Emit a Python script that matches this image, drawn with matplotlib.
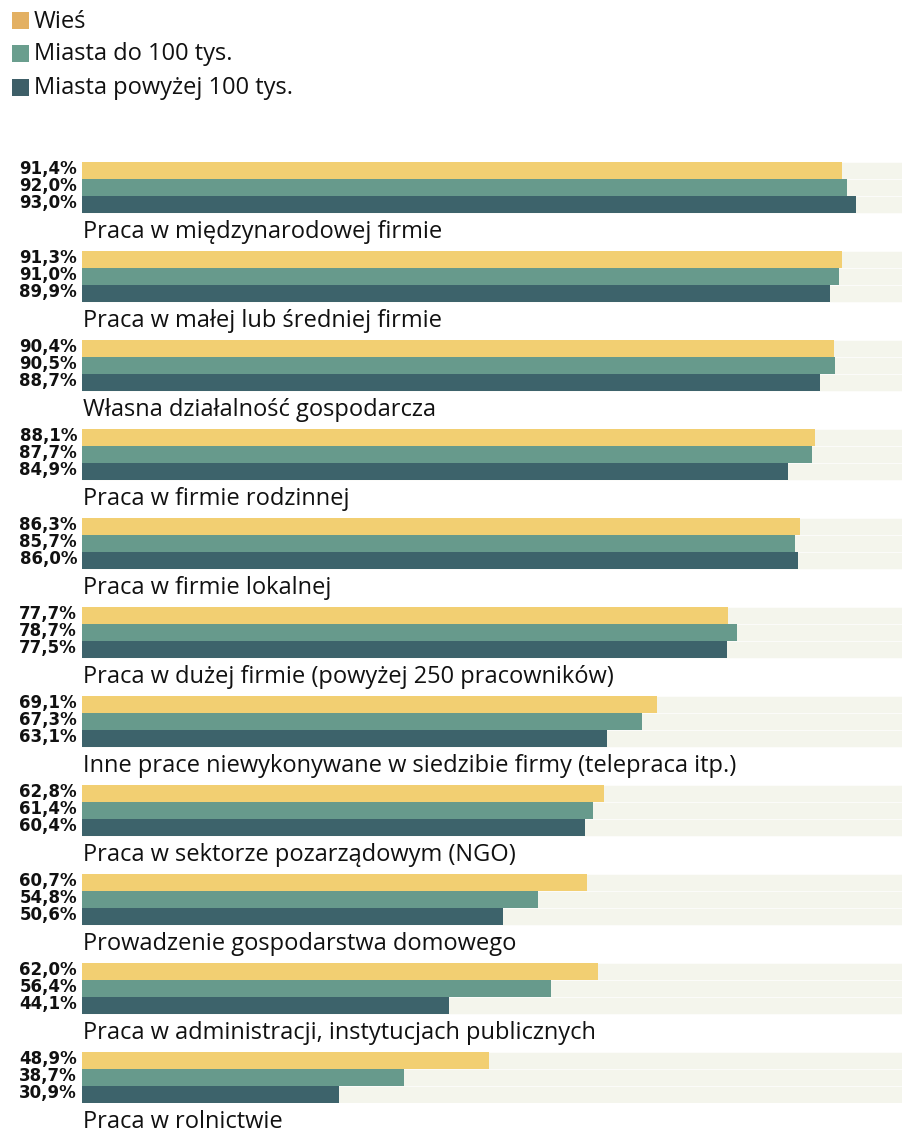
import matplotlib
matplotlib.use("Agg")
import matplotlib.pyplot as plt
from matplotlib.patches import Rectangle
import matplotlib.transforms as mtransforms

plt.rcParams['font.family'] = ['Open Sans', 'DejaVu Sans']

categories = [
    "Praca w międzynarodowej firmie",
    "Praca w małej lub średniej firmie",
    "Własna działalność gospodarcza",
    "Praca w firmie rodzinnej",
    "Praca w firmie lokalnej",
    "Praca w dużej firmie (powyżej 250 pracowników)",
    "Inne prace niewykonywane w siedzibie firmy (telepraca itp.)",
    "Praca w sektorze pozarządowym (NGO)",
    "Prowadzenie gospodarstwa domowego",
    "Praca w administracji, instytucjach publicznych",
    "Praca w rolnictwie",
]
wies = [91.4, 91.3, 90.4, 88.1, 86.3, 77.7, 69.1, 62.8, 60.7, 62.0, 48.9]
miasta_do_100 = [92.0, 91.0, 90.5, 87.7, 85.7, 78.7, 67.3, 61.4, 54.8, 56.4, 38.7]
miasta_pow_100 = [93.0, 89.9, 88.7, 84.9, 86.0, 77.5, 63.1, 60.4, 50.6, 44.1, 30.9]
series_names = ["Wieś", "Miasta do 100 tys.", "Miasta powyżej 100 tys."]
full_scale = 100

bar_colors = ["#F2CF72", "#679A8C", "#3D636B"]
legend_colors = ["#E3B062", "#6A9E8E", "#3E5F68"]
bg_color = "#F4F5EC"

W, H = 902, 1130
fig = plt.figure(figsize=(W / 100, H / 100), dpi=100)
ax_left, ax_right = 82 / W, 1.0
ax_top, ax_bot = 162 / H, 1103 / H
ax = fig.add_axes([ax_left, 1 - ax_bot, ax_right - ax_left, ax_bot - ax_top])

pitch = 1.0
bar_h = 17 / 89
series = [wies, miasta_do_100, miasta_pow_100]

lab_trans = mtransforms.blended_transform_factory(ax.transAxes, ax.transData)
for i, cat in enumerate(categories):
    top = i * pitch
    for j, vals in enumerate(series):
        y = top + (j + 0.5) * bar_h
        ax.barh(y, full_scale, height=bar_h, color=bg_color, left=0, zorder=1,
                edgecolor="white", linewidth=0.4)
        ax.barh(y, vals[i], height=bar_h, color=bar_colors[j], zorder=2)
        ax.text(-0.006, y + 0.035, f"{vals[i]:.1f}%".replace(".", ","), transform=lab_trans,
                ha="right", va="baseline", fontsize=12, fontweight="bold",
                family="DejaVu Sans", color="#111111")
    ax.text(0.15, top + 3 * bar_h + 0.28, cat, ha="left", va="baseline",
            fontsize=17, color="#111111")

ax.set_xlim(0, 820 / 8.32)
ax.set_ylim(10 + 3 * bar_h, 0)
ax.axis("off")

# legend (figure pixel layout)
leg_rows_y = [20, 53, 87]
for name, c, yc in zip(series_names, legend_colors, leg_rows_y):
    fig.add_artist(Rectangle((12 / W, 1 - (yc + 9) / H), 17 / W, 17 / H,
                             transform=fig.transFigure, facecolor=c, edgecolor="none"))
    fig.text(34 / W, 1 - (yc + 7.5) / H, name, ha="left", va="baseline",
             fontsize=17, color="#111111")

fig.savefig("out.png", dpi=100)
